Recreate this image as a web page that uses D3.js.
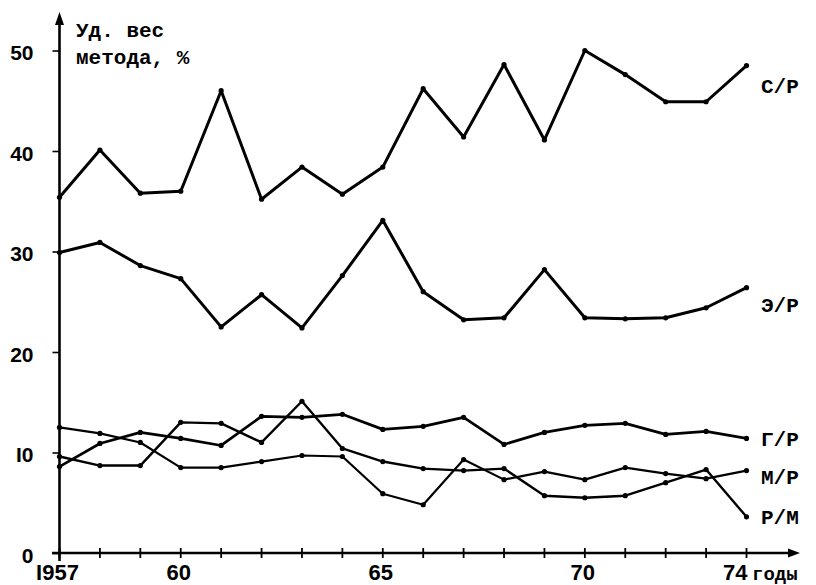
<!DOCTYPE html>
<html>
<head>
<meta charset="utf-8">
<script src="https://cdn.jsdelivr.net/npm/d3@7"></script>
<style>
  html, body { margin: 0; padding: 0; background: #fff; }
  svg { display: block; }
  text { font-family: "Liberation Mono", "DejaVu Sans Mono", monospace; fill: #000; }
</style>
</head>
<body>
<svg id="chart" width="816" height="585"></svg>
<script>
// ---- data ----
const years = [1957,1958,1959,1960,1961,1962,1963,1964,1965,1966,1967,1968,1969,1970,1971,1972,1973,1974];
const seriesCR = [35.4,40.1,35.8,36.0,46.0,35.2,38.4,35.7,38.4,46.2,41.4,48.6,41.1,50.0,47.6,44.9,44.9,48.5];
const seriesER = [29.9,30.9,28.6,27.3,22.5,25.7,22.4,27.6,33.1,26.0,23.2,23.4,28.2,23.4,23.3,23.4,24.4,26.4];
const seriesGR = [8.6,10.9,12.0,11.4,10.7,13.6,13.5,13.8,12.3,12.6,13.5,10.8,12.0,12.7,12.9,11.8,12.1,11.4];
const seriesMR = [12.5,11.9,11.0,8.5,8.5,9.1,9.7,9.6,5.9,4.8,9.3,7.3,8.1,7.3,8.5,7.9,7.4,8.2];
const seriesRM = [9.6,8.7,8.7,13.0,12.9,11.0,15.1,10.4,9.1,8.4,8.2,8.4,5.7,5.5,5.7,7.0,8.3,3.6];
const seriesNames = ["С/Р","Э/Р","Г/Р","М/Р","Р/М"];
const yTicks = [0,10,20,30,40,50];
const yTickLabels = ["0","I0","20","30","40","50"];
const xLabelYears = [1957,1960,1965,1970,1974];
const xTickLabels = ["I957","60","65","70","74"];
const yTitle = ["Уд. вес","метода, %"];
const xTitle = "годы";

// ---- drawing ----
const svg = d3.select("#chart");
const x = d3.scaleLinear().domain([1957,1974]).range([59.5,746.5]);
const y = d3.scaleLinear().domain([0,50]).range([553,50.5]);

const seriesData = [seriesCR, seriesER, seriesGR, seriesMR, seriesRM];
const widths = [3, 3, 2.7, 2.2, 2.4];
const labelDy = [20, 17, 0, 6, 0];

// axes lines
svg.append("line").attr("x1", 52).attr("x2", 792).attr("y1", y(0)).attr("y2", y(0))
  .attr("stroke", "#000").attr("stroke-width", 2.6);
svg.append("path").attr("d", `M800,${y(0)} L788,${y(0)-4.5} L788,${y(0)+4.5} Z`).attr("fill", "#000");
svg.append("line").attr("x1", x(1957)).attr("x2", x(1957)).attr("y1", 561).attr("y2", 22)
  .attr("stroke", "#000").attr("stroke-width", 2.6);
svg.append("path").attr("d", `M${x(1957)},12 L${x(1957)-4.5},25 L${x(1957)+4.5},25 Z`).attr("fill", "#000");

// y ticks
const yAxis = d3.axisLeft(y).tickValues(yTicks).tickSize(7).tickFormat((d,i) => yTickLabels[i]).tickPadding(19);
const gy = svg.append("g").attr("transform", `translate(${x(1957)},0)`).call(yAxis);
gy.select(".domain").remove();
gy.selectAll(".tick line").attr("stroke", "#000").attr("stroke-width", 1.6);
gy.selectAll(".tick text").attr("dy", "0.45em").style("font-size", "21px").style("font-weight", "bold")
  .style("font-family", "Liberation Sans, Arial, sans-serif");

// x ticks (crossing)
const gx = svg.append("g");
gx.selectAll("line").data(years).enter().append("line")
  .attr("x1", d => x(d)).attr("x2", d => x(d))
  .attr("y1", y(0) - 5).attr("y2", y(0) + 5)
  .attr("stroke", "#000").attr("stroke-width", 1.8);
gx.selectAll("text").data(xLabelYears).enter().append("text")
  .attr("x", (d,i) => i === 4 ? x(d) + 1 : x(d) - 2)
  .attr("y", 580)
  .attr("text-anchor", (d,i) => i === 4 ? "end" : "middle")
  .style("font-size", "22px")
  .style("font-weight", "bold")
  .style("font-family", "Liberation Sans, Arial, sans-serif")
  .text((d,i) => xTickLabels[i]);
svg.append("text").attr("x", 752).attr("y", 580).style("font-size", "19px").style("font-weight", "bold")
  .text(xTitle);

// y title
svg.selectAll(".ytitle").data(yTitle).enter().append("text").attr("class", "ytitle")
  .attr("x", 76).attr("y", (d,i) => 37 + i * 27)
  .style("font-size", "21px").style("font-weight", "bold")
  .text(d => d);

// series
const line = d3.line().x((d,i) => x(years[i])).y(d => y(d));
seriesData.forEach((s, k) => {
  svg.append("path").datum(s).attr("d", line)
    .attr("fill", "none").attr("stroke", "#000").attr("stroke-width", widths[k])
    .attr("stroke-linejoin", "round").attr("stroke-linecap", "round");
  svg.selectAll(".dot" + k).data(s).enter().append("circle")
    .attr("cx", (d,i) => x(years[i])).attr("cy", d => y(d)).attr("r", 2.6).attr("fill", "#000");
  svg.append("text").attr("x", 761).attr("y", y(s[s.length-1]) + labelDy[k])
    .attr("dy", "0.35em")
    .style("font-size", "21px").style("font-weight", "bold")
    .text(seriesNames[k]);
});
</script>
</body>
</html>
